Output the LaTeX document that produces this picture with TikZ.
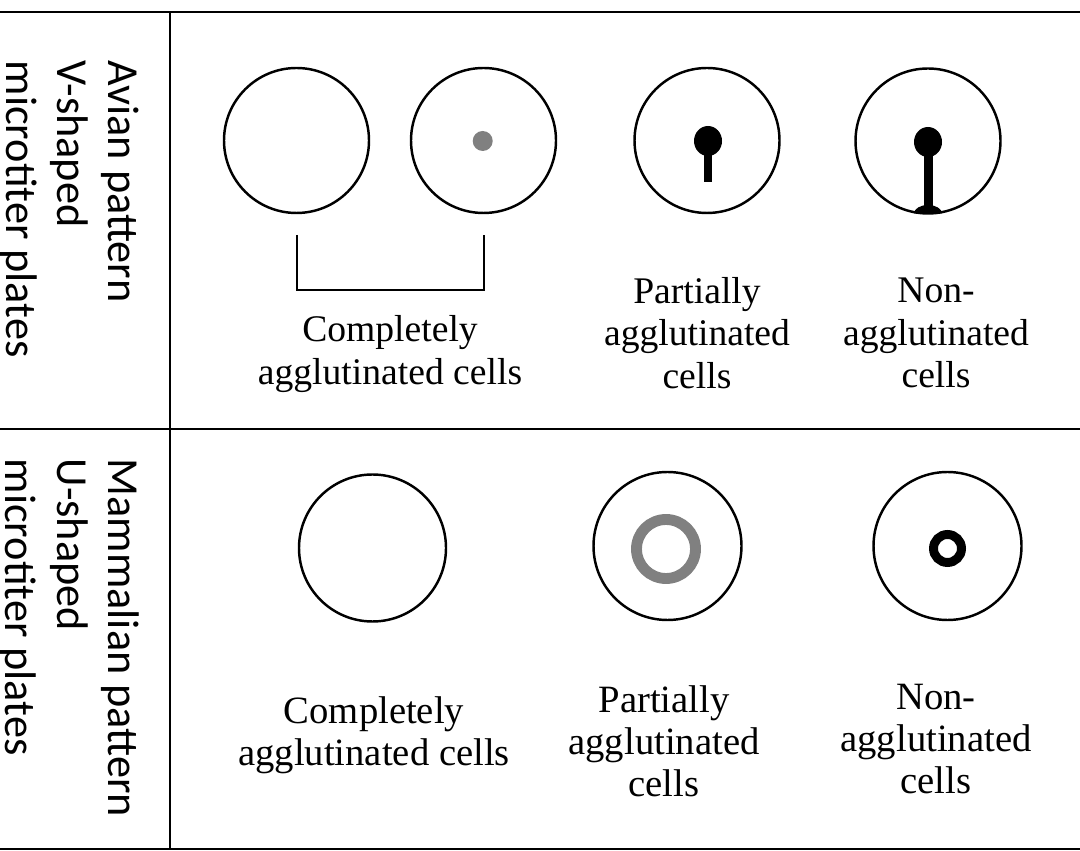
\documentclass[tikz,border=0pt]{standalone}
\usepackage{fontspec}
\setmainfont{Liberation Serif}
\newfontfamily\platefont{Carlito}
\usepackage{tikz}

\begin{document}
\begin{tikzpicture}[scale=0.1]
\tikzstyle{every node}+=[inner sep=0pt]
\tikzstyle{rowlabel}=[rotate=-90, anchor=north west, align=left, font=\platefont\fontsize{12.6}{14.6}\selectfont]
\tikzstyle{celllabel}=[align=center, font=\fontsize{10.7}{12}\selectfont]
\tikzstyle{well}=[black, line width=0.7pt]
\useasboundingbox (0,0) rectangle (108,-85.1);
\draw [black, line width=0.8pt] (0,-1.2) -- (108,-1.2);
\draw [black, line width=0.8pt] (0,-42.9) -- (108,-42.9);
\draw [black, line width=0.8pt] (0,-84.9) -- (108,-84.9);
\draw [black, line width=0.8pt] (17,-1.2) -- (17,-84.9);
\node [rowlabel] (avian) at (14.0,-6.0) {Avian pattern\\V-shaped\\microtiter plates};
\node [rowlabel] (mammal) at (14.0,-45.8) {Mammalian pattern\\U-shaped\\microtiter plates};
\draw [well] (29.65,-14.05) circle (7.25);
\draw [well] (48.35,-14.05) circle (7.25);
\fill [gray] (48.27,-14.1) circle (1.0);
\draw [well] (70.7,-14.05) circle (7.25);
\fill [black] (70.8,-14.1) ellipse (1.4 and 1.5);
\fill [black] (70.4,-14.1) rectangle (71.2,-18.2);
\draw [well] (92.8,-14.1) circle (7.25);
\fill [black] (92.8,-14.2) ellipse (1.4 and 1.5);
\fill [black] (92.35,-14.2) rectangle (93.25,-20.9);
\fill [black] (91.4,-21.35) arc (180:0:1.4 and 0.85) -- cycle;
\draw [black, line width=0.7pt] (29.7,-23.5) -- (29.7,-29) -- (48.4,-29) -- (48.4,-23.5);
\node [celllabel] (compA) at (39.0,-35.4) {Completely\\agglutinated cells};
\node [celllabel] (partA) at (69.7,-33.3) {Partially\\agglutinated\\cells};
\node [celllabel] (nonA) at (93.6,-33.3) {Non-\\agglutinated\\cells};
\draw [well] (37.25,-54.8) circle (7.35);
\draw [well] (66.75,-54.6) circle (7.4);
\draw [gray, line width=3.1pt] (66.6,-54.9) circle (2.95);
\draw [well] (94.75,-54.6) circle (7.4);
\draw [black, line width=2.55pt] (94.75,-54.85) circle (1.4);
\node [celllabel, font=\fontsize{11}{12}\selectfont] (compM) at (37.4,-73.5) {Completely\\agglutinated cells};
\node [celllabel, font=\fontsize{11}{12}\selectfont] (partM) at (66.4,-74.1) {Partially\\agglutinated\\cells};
\node [celllabel, font=\fontsize{11}{12}\selectfont] (nonM) at (93.6,-73.9) {Non-\\agglutinated\\cells};
\end{tikzpicture}
\end{document}
